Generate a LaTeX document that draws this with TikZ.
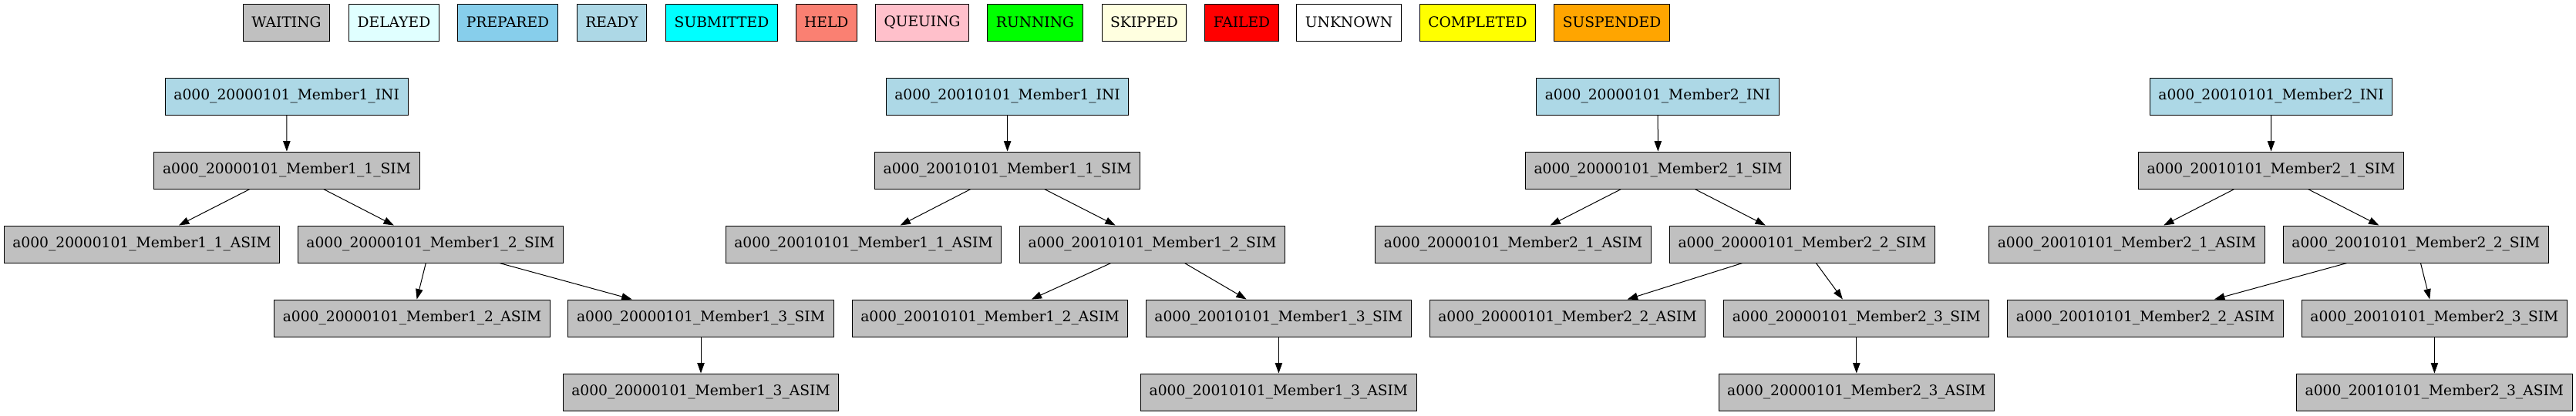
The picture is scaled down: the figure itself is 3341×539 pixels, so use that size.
\documentclass[tikz,border=0pt]{standalone}
\usepackage{fontspec}
\setmainfont{DejaVu Serif}
\usetikzlibrary{arrows.meta}
\definecolor{cWaiting}{HTML}{C0C0C0}
\definecolor{cDelayed}{HTML}{E0FFFF}
\definecolor{cPrepared}{HTML}{87CEEB}
\definecolor{cReady}{HTML}{ADD8E6}
\definecolor{cSubmitted}{HTML}{00FFFF}
\definecolor{cHeld}{HTML}{FA8072}
\definecolor{cQueuing}{HTML}{FFC0CB}
\definecolor{cRunning}{HTML}{00FF00}
\definecolor{cSkipped}{HTML}{FFFFE0}
\definecolor{cFailed}{HTML}{FF0000}
\definecolor{cUnknown}{HTML}{FFFFFF}
\definecolor{cCompleted}{HTML}{FFFF00}
\definecolor{cSuspended}{HTML}{FFA500}
\tikzset{
  jobbox/.style={draw=black, line width=0.75pt, rectangle, minimum height=36pt,
    inner xsep=8.3pt, inner ysep=0pt, font=\fontsize{14}{16}\selectfont},
  legendbox/.style={jobbox},
  inibox/.style={jobbox, fill=cReady, minimum width=236pt},
  simbox/.style={jobbox, fill=cWaiting, minimum width=258pt},
  asimbox/.style={jobbox, fill=cWaiting, minimum width=268pt},
  dep/.style={line width=0.75pt, -{Triangle[length=10pt,width=7pt]}},
}
\newcommand{\jobtree}[9]{%
  \node[inibox]  (#1ini) at (#3,125) {#2\_INI};
  \node[simbox]  (#1s1)  at (#4,221) {#2\_1\_SIM};
  \node[asimbox] (#1a1)  at (#5,317) {#2\_1\_ASIM};
  \node[simbox]  (#1s2)  at (#6,317) {#2\_2\_SIM};
  \node[asimbox] (#1a2)  at (#7,413) {#2\_2\_ASIM};
  \node[simbox]  (#1s3)  at (#8,413) {#2\_3\_SIM};
  \node[asimbox] (#1a3)  at (#9,509) {#2\_3\_ASIM};
  \draw[dep] (#1ini) -- (#1s1);
  \draw[dep] (#1s1) -- (#1a1);
  \draw[dep] (#1s1) -- (#1s2);
  \draw[dep] (#1s2) -- (#1a2);
  \draw[dep] (#1s2) -- (#1s3);
  \draw[dep] (#1s3) -- (#1a3);
}
\begin{document}
\begin{tikzpicture}[x=0.75pt, y=-0.75pt]
\useasboundingbox (0,0) rectangle (3341,539);
\fill[white] (0,0) rectangle (3341,539);
% legend
\node[legendbox, fill=cWaiting]   (lWaiting)   at (371.5,29)  {WAITING};
\node[legendbox, fill=cDelayed]   (lDelayed)   at (511,29)    {DELAYED};
\node[legendbox, fill=cPrepared]  (lPrepared)  at (658.5,29)  {PREPARED};
\node[legendbox, fill=cReady]     (lReady)     at (793.5,29)  {READY};
\node[legendbox, fill=cSubmitted] (lSubmitted) at (936,29)    {SUBMITTED};
\node[legendbox, fill=cHeld]      (lHeld)      at (1071.75,29) {HELD};
\node[legendbox, fill=cQueuing]   (lQueuing)   at (1196,29)   {QUEUING};
\node[legendbox, fill=cRunning]   (lRunning)   at (1342.5,29) {RUNNING};
\node[legendbox, fill=cSkipped]   (lSkipped)   at (1484,29)   {SKIPPED};
\node[legendbox, fill=cFailed]    (lFailed)    at (1610.5,29) {FAILED};
\node[legendbox, fill=cUnknown]   (lUnknown)   at (1749.5,29) {UNKNOWN};
\node[legendbox, fill=cCompleted] (lCompleted) at (1916.5,29) {COMPLETED};
\node[legendbox, fill=cSuspended] (lSuspended) at (2090.5,29) {SUSPENDED};
% job trees
\jobtree{ga}{a000\_20000101\_Member1}{371.7}{372}{184}{558.4}{534.5}{909}{909}
\jobtree{gb}{a000\_20010101\_Member1}{1306.6}{1306.6}{1120}{1494.6}{1284}{1658.4}{1658.4}
\jobtree{gc}{a000\_20000101\_Member2}{2150}{2150.5}{1962.6}{2337.5}{2033}{2407.8}{2407.8}
\jobtree{gd}{a000\_20010101\_Member2}{2945.6}{2945.5}{2758.5}{3133.3}{2782.6}{3157.4}{3157.4}
\end{tikzpicture}
\end{document}
